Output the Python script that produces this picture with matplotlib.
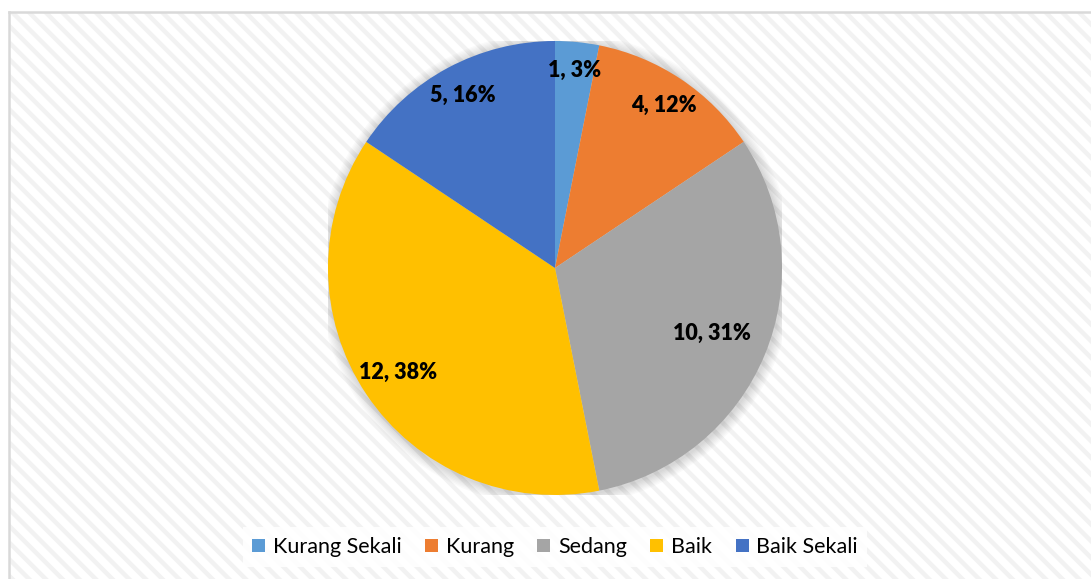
import matplotlib.pyplot as plt
import matplotlib.patches as mpatches
import numpy as np

categories = ["Kurang Sekali", "Kurang", "Sedang", "Baik", "Baik Sekali"]
values = [1, 4, 10, 12, 5]
pct_labels = ["3%", "12%", "31%", "38%", "16%"]
colors = ["#5b9bd5", "#ed7d31", "#a5a5a5", "#ffc000", "#4472c4"]
label_radius = [0.875, 0.86, 0.75, 0.83, 0.86]

plt.rcParams['hatch.linewidth'] = 3.2
plt.rcParams['hatch.color'] = '#f2f2f2'

W, H = 1091, 579
fig = plt.figure(figsize=(W / 100, H / 100), dpi=100)
fig.patch.set_facecolor('white')

# hatched chart area background with a light border (left/top only visible)
bg = mpatches.Rectangle((9 / W, -0.05), 1.1, 1 - 13 / H + 0.05, transform=fig.transFigure,
                        facecolor='white', edgecolor='#f2f2f2', hatch='\\\\', lw=0, zorder=-5)
fig.patches.append(bg)
fig.add_artist(plt.Line2D([9 / W, 9 / W], [0, 1 - 12 / H], transform=fig.transFigure,
                          color='#d9d9d9', lw=1.8, zorder=-4))
fig.add_artist(plt.Line2D([9 / W, 1], [1 - 12 / H, 1 - 12 / H], transform=fig.transFigure,
                          color='#d9d9d9', lw=1.8, zorder=-4))

# pie axes: center (555, 268), radius 227 px
cx, cy, r = 555, 268, 227
ax = fig.add_axes([(cx - r) / W, (H - cy - r) / H, 2 * r / W, 2 * r / H])
ax.patch.set_alpha(0)

wedges, _ = ax.pie(values, colors=colors, startangle=90, counterclock=False, radius=1,
                   wedgeprops=dict(lw=0))
for w in wedges:
    w.set_zorder(2)

# soft shadow
for k in range(8):
    ax.add_patch(mpatches.Circle((0.004, -0.006), 1.0 + 0.006 * (k + 1), color='black',
                                 alpha=0.018, lw=0, zorder=1))

ax.set_aspect('auto')
ax.set_xlim(-1, 1)
ax.set_ylim(-1, 1)
ax.axis('off')

total = sum(values)
start = 90.0
for v, p, lr in zip(values, pct_labels, label_radius):
    span = v / total * 360
    mid = np.deg2rad(start - span / 2)
    start -= span
    ax.text(lr * np.cos(mid), lr * np.sin(mid), f"{v}, {p}", ha='center', va='center',
            fontsize=15.5, fontweight='heavy', family='Lato', color='black', zorder=5)

handles = [mpatches.Patch(facecolor=c, edgecolor='none') for c in colors]
leg = fig.legend(handles, categories, loc='center', bbox_to_anchor=(cx / W, 1 - 547 / H),
                 ncol=5, frameon=True, fancybox=False,
                 prop={'family': 'Lato', 'size': 15.5},
                 handlelength=0.6, handleheight=0.6, handletextpad=0.35,
                 columnspacing=1.1, borderpad=0.45)
leg.get_frame().set_facecolor('white')
leg.get_frame().set_alpha(0.85)
leg.get_frame().set_edgecolor('none')

fig.savefig('out.png', dpi=100)
